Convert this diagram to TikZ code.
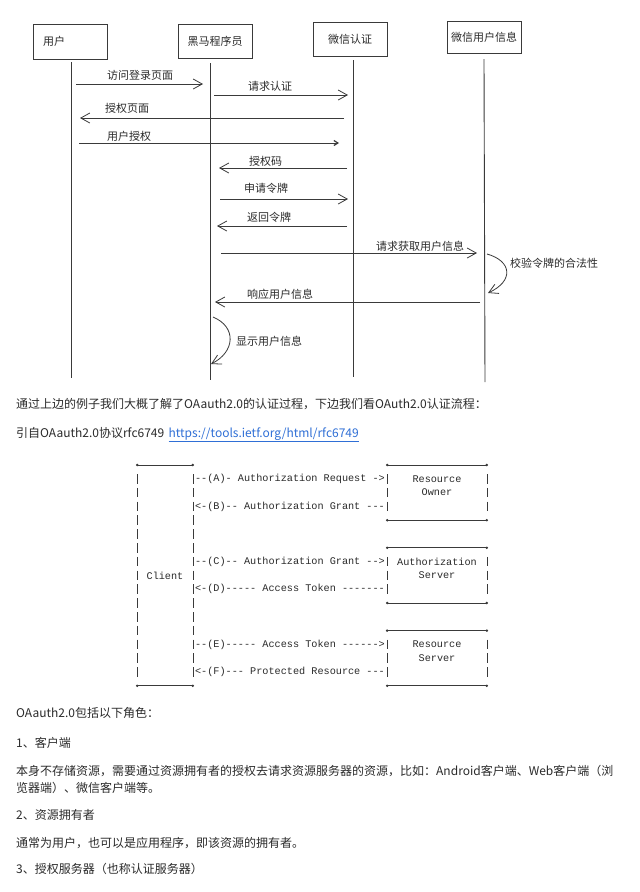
\documentclass[tikz,border=0pt]{standalone}
\usepackage{fontspec}
\newfontfamily\cjk{Noto Sans CJK SC}
\setmonofont{Liberation Mono}
\usetikzlibrary{arrows.meta,positioning}
\definecolor{inkgray}{HTML}{3A3A3A}
\definecolor{textgray}{HTML}{2B2B2B}
\definecolor{linkblue}{HTML}{2F6FD6}
\tikzset{
  actor/.style={draw=inkgray, line width=1pt, minimum width=74pt, minimum height=34pt, inner sep=0pt, font=\cjk\fontsize{11}{13}\selectfont, text=textgray},
  life/.style={draw=inkgray, line width=0.9pt},
  msg/.style={draw=inkgray, line width=0.8pt, -{Straight Barb[length=9pt,width=10pt,line width=0.8pt]}},
  msgsmall/.style={msg, -{Straight Barb[length=4pt,width=5pt,line width=1.2pt]}},
  msglabel/.style={anchor=west, inner sep=0pt, font=\cjk\fontsize{11}{13}\selectfont, text=textgray},
  para/.style={anchor=base west, inner sep=0pt, font=\cjk\fontsize{12}{14}\selectfont, text=textgray},
  ascii/.style={inner sep=0pt, font=\ttfamily\fontsize{10.2}{12}\selectfont, text=textgray},
  asciiedge/.style={draw=inkgray, line width=0.7pt, {Circle[length=2.4pt]}-{Circle[length=2.4pt]}},
  asciibar/.style={draw=inkgray, line width=0.7pt, dash pattern=on 9.5pt off 4.3pt},
}
\begin{document}
\begin{tikzpicture}[x=1pt, y=-1pt]
  \fill[white] (0,0) rectangle (640,892);
  \useasboundingbox (0,0) rectangle (640,892);

  % sequence diagram
  \node[actor, text width=54pt, inner xsep=10pt, align=left, minimum height=35pt] (user) at (70,41.5) {用户};
  \node[actor] (app) at (215,41) {黑马程序员};
  \node[actor] (auth) at (350,39) {微信认证};
  \node[actor, minimum height=32pt] (info) at (484,37) {微信用户信息};

  \coordinate (userL) at (71,62);  \coordinate (userE) at (71,378);
  \coordinate (appL) at (210,63);  \coordinate (appE) at (210,380);
  \coordinate (authL) at (353,60); \coordinate (authE) at (353,377);
  \coordinate (infoL) at (484,59); \coordinate (infoE) at (485,382);
  \draw[life] (userL) -- (userE);
  \draw[life] (appL) -- (appE);
  \draw[life] (authL) -- (authE);
  \draw[life] (infoL) -- (infoE);

  \draw[msg] ([xshift=5pt]userL |- 0,84) -- ([xshift=-7pt]appL |- 0,84);
  \node[msglabel] (visit) at (107,75) {访问登录页面};
  \draw[msg] ([xshift=4pt]appL |- 0,95) -- ([xshift=-5pt]authL |- 0,95);
  \node[msglabel] (req) at (248,86) {请求认证};
  \draw[msg] ([xshift=-9pt]authL |- 0,118) -- ([xshift=9pt]userL |- 0,118);
  \node[msglabel] (page) at (105,108) {授权页面};
  \draw[msgsmall] ([xshift=8pt]userL |- 0,143) -- ([xshift=-14pt]authL |- 0,143);
  \node[msglabel] (grant) at (107,136) {用户授权};
  \draw[msg] ([xshift=-6pt]authL |- 0,168) -- ([xshift=9pt]appL |- 0,168);
  \node[msglabel] (code) at (249,161) {授权码};
  \draw[msg] ([xshift=10pt]appL |- 0,199) -- ([xshift=-5pt]authL |- 0,199);
  \node[msglabel] (apply) at (244,188) {申请令牌};
  \draw[msg] ([xshift=-6pt]authL |- 0,226) -- ([xshift=7pt]appL |- 0,226);
  \node[msglabel] (back) at (247,217) {返回令牌};
  \draw[msg] ([xshift=11pt]appL |- 0,253) -- ([xshift=-7pt]infoL |- 0,253);
  \node[msglabel] (getinfo) at (376,246) {请求获取用户信息};
  \draw[msg] ([xshift=3pt]infoL |- 0,254) .. controls +(25,7) and +(26,-12) .. ([xshift=4pt]infoL |- 0,293);
  \node[msglabel] (check) at (510,263) {校验令牌的合法性};
  \draw[msg] ([xshift=-4pt]infoL |- 0,302) -- ([xshift=5pt]appL |- 0,302);
  \node[msglabel] (resp) at (247,294) {响应用户信息};
  \draw[msg] ([xshift=3pt]appL |- 0,317) .. controls +(24,10) and +(24,-12) .. ([xshift=1pt]appL |- 0,364);
  \node[msglabel] (show) at (236,341) {显示用户信息};

  % text
  \node[para] (intro) at (16,408) {通过上边的例子我们大概了解了OAauth2.0的认证过程，下边我们看OAuth2.0认证流程：};
  \node[para] (cite) at (16,437) {引自OAauth2.0协议rfc6749};
  \node[para, text=linkblue, base right=4pt of cite] (link) {\underline{https://tools.ietf.org/html/rfc6749}};

  % rfc6749 figure
  \foreach \xl/\xr/\rt/\rb in {136/194/0/16, 386/488/0/4, 386/488/6/10, 386/488/12/16} {
    \draw[asciiedge] (\xl,465+13.8*\rt) -- (\xr,465+13.8*\rt);
    \draw[asciiedge] (\xl,465+13.8*\rb) -- (\xr,465+13.8*\rb);
    \draw[asciibar] (\xl+1,474.05+13.8*\rt) -- (\xl+1,456.05+13.8*\rb);
    \draw[asciibar] (\xr-1,474.05+13.8*\rt) -- (\xr-1,456.05+13.8*\rb);
  }
  \node[ascii] (rowA) at (290,478.8) {--(A)- Authorization Request ->};
  \node[ascii] (rowB) at (290,506.4) {<-(B)-- Authorization Grant ---};
  \node[ascii] (rowC) at (290,561.6) {--(C)-- Authorization Grant -->};
  \node[ascii] (rowD) at (290,589.2) {<-(D)----- Access Token -------};
  \node[ascii] (rowE) at (290,644.4) {--(E)----- Access Token ------>};
  \node[ascii] (rowF) at (290,672) {<-(F)--- Protected Resource ---};
  \node[ascii] (client) at (165,575.4) {Client};
  \node[ascii] (owner1) at (437,478.8) {Resource};
  \node[ascii] (owner2) at (437,492.6) {Owner};
  \node[ascii] (as1) at (437,561.6) {Authorization};
  \node[ascii] (as2) at (437,575.4) {Server};
  \node[ascii] (rs1) at (437,644.4) {Resource};
  \node[ascii] (rs2) at (437,658.2) {Server};

  % roles
  \node[para] (roles) at (16,717) {OAauth2.0包括以下角色：};
  \node[para] (role1) at (16,747) {1、客户端};
  \node[para] (role1a) at (16,775) {本身不存储资源，需要通过资源拥有者的授权去请求资源服务器的资源，比如：Android客户端、Web客户端（浏};
  \node[para] (role1b) at (16,792) {览器端）、微信客户端等。};
  \node[para] (role2) at (16,819) {2、资源拥有者};
  \node[para] (role2a) at (16,847) {通常为用户，也可以是应用程序，即该资源的拥有者。};
  \node[para] (role3) at (16,873) {3、授权服务器（也称认证服务器）};
\end{tikzpicture}
\end{document}
